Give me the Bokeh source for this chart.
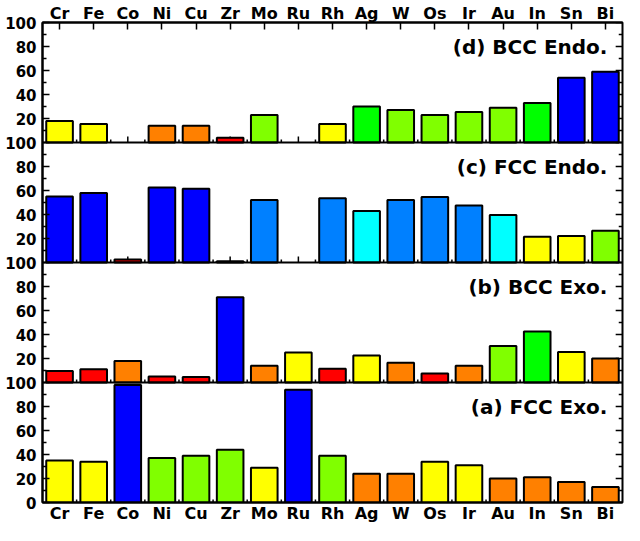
from bokeh.plotting import figure
from bokeh.models import (ColumnDataSource, FactorRange, Range1d, FixedTicker,
                          CategoricalAxis, Span)
from bokeh.transform import dodge
from bokeh.core.properties import value
from bokeh.embed import file_html
from bokeh.resources import INLINE

# ---------------- data ----------------
cats = ["Cr", "Fe", "Co", "Ni", "Cu", "Zr", "Mo", "Ru", "Rh",
        "Ag", "W", "Os", "Ir", "Au", "In", "Sn", "Bi"]

B, D, C, G, L, Y, O, R = ("#0000FF", "#0080FF", "#00FFFF", "#00FF00",
                          "#80FF00", "#FFFF00", "#FF8000", "#FF0000")

# panel (a) FCC Exo.
fcc_exo = [35, 34, 98, 37, 39, 44, 29, 94, 39, 24, 24, 34, 31, 20, 21, 17, 13]
fcc_exo_colors = [Y, Y, B, L, L, L, Y, B, L, O, O, Y, Y, O, O, O, O]

# panel (b) BCC Exo.
bcc_exo = [9.6, 11, 18, 5, 4.5, 71, 14, 25, 11.5, 22.5, 16.5, 7.5, 14, 30.5, 42.5, 25.5, 20]
bcc_exo_colors = [R, R, O, R, R, B, O, Y, R, Y, O, R, O, L, G, Y, O]

# panel (c) FCC Endo.
fcc_endo = [55, 58, 2.5, 62.5, 61.5, 1, 52, None, 53.5, 43, 52, 54.5, 47.5, 39.5, 21.5, 22, 26.5]
fcc_endo_colors = [B, B, R, B, B, R, D, None, D, C, D, D, D, C, Y, Y, L]

# panel (d) BCC Endo.
bcc_endo = [18, 15.5, None, 14, 14, 4, 23, None, 15.5, 30, 27, 23, 25.5, 29, 33, 54, 59]
bcc_endo_colors = [Y, Y, None, O, O, R, L, None, Y, G, L, L, L, L, G, B, B]

panel_labels = ["(a) FCC Exo.", "(b) BCC Exo.", "(c) FCC Endo.", "(d) BCC Endo."]
panels = [(fcc_exo, fcc_exo_colors), (bcc_exo, bcc_exo_colors),
          (fcc_endo, fcc_endo_colors), (bcc_endo, bcc_endo_colors)]

PANEL = 100  # each panel spans 0..100

# ---------------- sources ----------------
bx, bb, bt, bc = [], [], [], []
for k, (vals, cols) in enumerate(panels):
    off = k * PANEL
    for c, v, col in zip(cats, vals, cols):
        if v is None:
            continue
        bx.append(c); bb.append(off); bt.append(off + v); bc.append(col)
bars = ColumnDataSource(dict(cat=bx, bottom=bb, top=bt, color=bc))

cx, cy0, cy1 = [], [], []
for k in range(4):
    for c in cats:
        cx.append(c); cy0.append(k * PANEL); cy1.append(k * PANEL + 5)
center_ticks = ColumnDataSource(dict(cat=cx, y0=cy0, y1=cy1))

ex, ey0, ey1 = [], [], []
for k in range(4):
    for c in cats[:-1]:
        ex.append(c); ey0.append(k * PANEL); ey1.append(k * PANEL + 2.5)
edge_ticks = ColumnDataSource(dict(cat=ex, y0=ey0, y1=ey1))

yt = list(range(0, 4 * PANEL + 1, 20))
ym = [t for t in range(0, 4 * PANEL + 1, 10) if t % 20]
right_major = ColumnDataSource(dict(cat=[cats[-1]] * len(yt), y=yt))
right_minor = ColumnDataSource(dict(cat=[cats[-1]] * len(ym), y=ym))

# ---------------- figure ----------------
FONT = "DejaVu Sans"
p = figure(x_range=FactorRange(factors=cats), y_range=Range1d(0, 4 * PANEL),
           width=624, height=525, output_backend="svg", toolbar_location=None,
           min_border_left=42, min_border_right=2, min_border_top=0,
           min_border_bottom=0)
p.xgrid.visible = False
p.ygrid.visible = False
p.outline_line_color = "black"
p.outline_line_width = 2
p.background_fill_color = "white"
p.border_fill_color = "white"

overrides = {}
for t in yt:
    r = t % PANEL
    overrides[t] = str(r if (r or t == 0) else PANEL)

ya = p.yaxis[0]
ya.ticker = FixedTicker(ticks=yt, minor_ticks=ym)
ya.major_label_overrides = overrides
ya.major_tick_in = 7
ya.major_tick_out = 0
ya.minor_tick_in = 4
ya.minor_tick_out = 0
ya.major_label_text_font = FONT
ya.major_label_text_font_style = "bold"
ya.major_label_text_font_size = "15px"
ya.major_label_text_color = "black"
ya.major_label_standoff = 6
ya.axis_line_width = 2
ya.major_tick_line_width = 1.5
ya.minor_tick_line_width = 1.5

xa = p.xaxis[0]
ta = CategoricalAxis()
p.add_layout(ta, "above")
for ax, tick_in in ((xa, 0), (ta, 7)):
    ax.major_tick_in = tick_in
    ax.major_tick_out = 0
    ax.minor_tick_in = 0
    ax.minor_tick_out = 0
    ax.major_label_text_font = FONT
    ax.major_label_text_font_style = "bold"
    ax.major_label_text_font_size = "16px"
    ax.major_label_text_color = "black"
    ax.axis_line_width = 2
    ax.major_tick_line_width = 1.5
xa.major_label_standoff = 1
ta.major_label_standoff = 0

# ticks along each panel's bottom edge
p.segment(x0="cat", x1="cat", y0="y0", y1="y1", source=center_ticks,
          line_color="black", line_width=1.5)
p.segment(x0=dodge("cat", 0.5, range=p.x_range), x1=dodge("cat", 0.5, range=p.x_range),
          y0="y0", y1="y1", source=edge_ticks, line_color="black", line_width=1.5)
# ticks along the right edge
p.segment(x0=dodge("cat", 0.5, range=p.x_range), x1=dodge("cat", 0.3, range=p.x_range),
          y0="y", y1="y", source=right_major, line_color="black", line_width=1.5)
p.segment(x0=dodge("cat", 0.5, range=p.x_range), x1=dodge("cat", 0.39, range=p.x_range),
          y0="y", y1="y", source=right_minor, line_color="black", line_width=1.5)

p.vbar(x="cat", bottom="bottom", top="top", width=0.78, source=bars,
       fill_color="color", line_color="black", line_width=2)

for k in range(1, 4):
    p.add_layout(Span(location=k * PANEL, dimension="width",
                      line_color="black", line_width=2))

p.text(x=[cats[-1]] * 4, y=[k * PANEL + 80 for k in range(4)], text=panel_labels,
       text_align="right", text_baseline="middle", x_offset=2,
       text_font=value(FONT), text_font_style="bold", text_font_size="20px",
       text_color="black")

open("out.html", "w").write(file_html(p, INLINE))
